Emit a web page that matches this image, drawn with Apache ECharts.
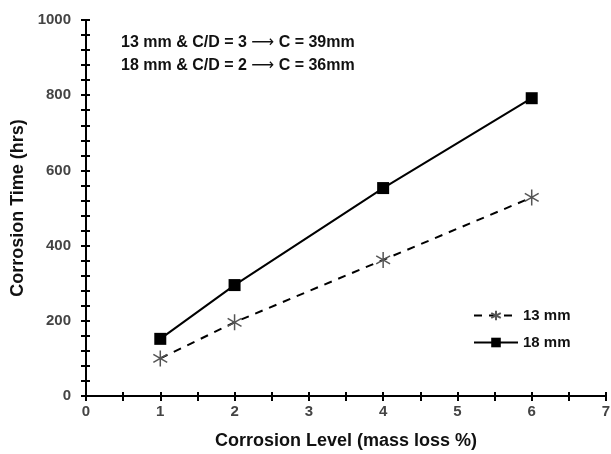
<!DOCTYPE html>
<html>
<head>
<meta charset="utf-8">
<script src="https://cdn.jsdelivr.net/npm/echarts@6/dist/echarts.min.js"></script>
<style>
  html, body { margin: 0; padding: 0; background: #fff; }
  #chart { width: 611px; height: 454px; }
</style>
</head>
<body>
<div id="chart"></div>
<script>
const levels = [1, 2, 4, 6];
const time13 = [100, 196, 362, 528];
const time18 = [152, 295, 553, 792];
const notes = [
    ['13 mm & C/D = 3', 'C = 39mm'],
    ['18 mm & C/D = 2', 'C = 36mm']
];

const chart = echarts.init(document.getElementById('chart'));

const font = 'Liberation Sans, Arial, sans-serif';
const star = 'path://M0,-10L0,10M-8.66,-5L8.66,5M-8.66,5L8.66,-5';

// shared axis pieces, drawn twice so ticks cross the axis line
const xBase = { type: 'value', min: 0, max: 7, interval: 1, splitLine: { show: false } };
const yBase = { type: 'value', min: 0, max: 1000, interval: 200, splitLine: { show: false } };
const lineStyle = { color: '#000', width: 2 };
const tickStyle = { color: '#000', width: 2 };

const option = {
    animation: false,
    grid: { left: 86, right: 5, top: 20, bottom: 58, outerBoundsMode: 'none' },
    legend: {
        orient: 'vertical',
        left: 468,
        top: 303,
        itemWidth: 44,
        itemHeight: 12,
        itemGap: 12,
        textStyle: { fontFamily: font, fontSize: 15, fontWeight: 'bold', color: '#111' },
        data: ['13 mm', '18 mm']
    },
    graphic: [{
        type: 'text',
        left: 121,
        top: 31,
        style: {
            text: notes.map(n => n[0] + ' {arr|\u27F6} ' + n[1]).join('\n'),
            font: 'bold 16px ' + font,
            lineHeight: 23,
            fill: '#111',
            rich: {
                arr: { fontFamily: 'DejaVu Sans', fontSize: 16, fill: '#111', lineHeight: 23 }
            }
        }
    }],
    xAxis: [
        Object.assign({}, xBase, {
            name: 'Corrosion Level (mass loss %)',
            nameLocation: 'middle',
            nameGap: 36,
            nameTextStyle: { fontFamily: font, fontSize: 18, fontWeight: 'bold', color: '#111' },
            axisLine: { lineStyle: lineStyle },
            axisTick: { length: 5, lineStyle: tickStyle },
            minorTick: { show: true, splitNumber: 2, length: 5, lineStyle: tickStyle },
            axisLabel: { fontFamily: font, fontSize: 15, fontWeight: 'bold', color: '#444', margin: 8 }
        }),
        Object.assign({}, xBase, {
            position: 'bottom',
            axisLine: { show: false },
            axisTick: { inside: true, length: 4, lineStyle: tickStyle },
            minorTick: { show: true, splitNumber: 2, length: 4, lineStyle: tickStyle },
            axisLabel: { show: false }
        })
    ],
    yAxis: [
        Object.assign({}, yBase, {
            name: 'Corrosion Time (hrs)',
            nameLocation: 'middle',
            nameGap: 57,
            nameTextStyle: { fontFamily: font, fontSize: 18, fontWeight: 'bold', color: '#111' },
            axisLine: { show: true, lineStyle: lineStyle },
            axisTick: { show: true, length: 5, lineStyle: tickStyle },
            minorTick: { show: true, splitNumber: 5, length: 5, lineStyle: tickStyle },
            axisLabel: {
                fontFamily: font, fontSize: 15, fontWeight: 'bold', color: '#444', margin: 15,
                formatter: v => String(v)
            }
        }),
        Object.assign({}, yBase, {
            position: 'left',
            axisLine: { show: false },
            axisTick: { show: true, inside: true, length: 4, lineStyle: tickStyle },
            minorTick: { show: true, splitNumber: 5, length: 4, lineStyle: tickStyle },
            axisLabel: { show: false }
        })
    ],
    series: [
        {
            name: '13 mm',
            type: 'line',
            data: levels.map((x, i) => [x, time13[i]]),
            symbol: star,
            symbolSize: 16,
            symbolKeepAspect: true,
            lineStyle: { color: '#000', width: 2, type: [8, 7] },
            itemStyle: { color: 'none', borderColor: '#555', borderWidth: 1.5 },
            z: 3
        },
        {
            name: '18 mm',
            type: 'line',
            data: levels.map((x, i) => [x, time18[i]]),
            symbol: 'rect',
            symbolSize: 12,
            lineStyle: { color: '#000', width: 2 },
            itemStyle: { color: '#000' },
            z: 3
        }
    ]
};

chart.setOption(option);
</script>
</body>
</html>
